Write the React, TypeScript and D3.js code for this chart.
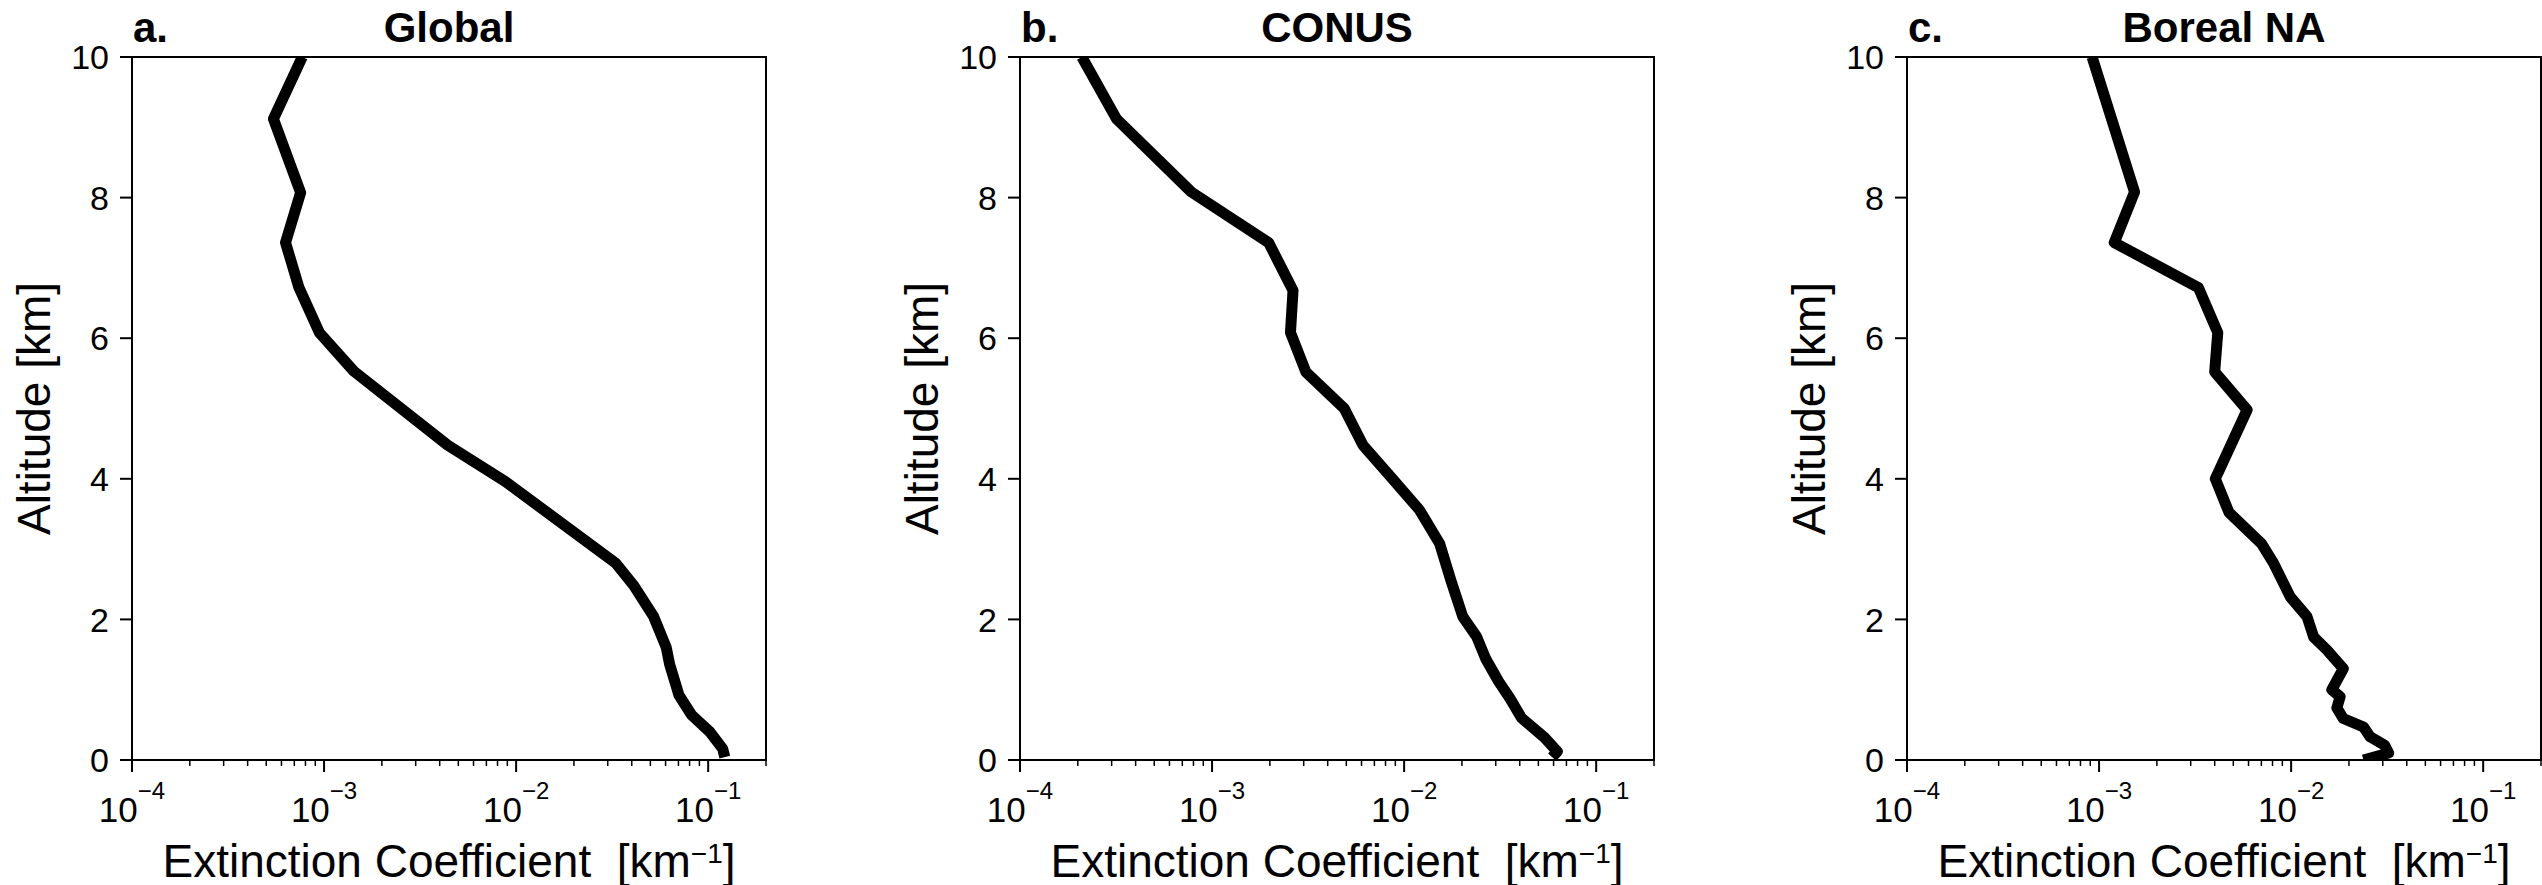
import React from "react";
import * as d3 from "d3";

// ---- Data ----
const globalAlt = [10, 9.12, 8.07, 7.36, 6.72, 6.08, 5.53, 4.48, 3.96, 2.8, 2.48, 2.04, 1.6, 1.36, 0.92, 0.64, 0.4, 0.16, 0.04];
const globalExt = [7.7e-4, 5.45e-4, 7.55e-4, 6.3e-4, 7.4e-4, 9.45e-4, 1.43e-3, 4.4e-3, 8.8e-3, 3.3e-2, 4.1e-2, 5.2e-2, 6.05e-2, 6.3e-2, 7.05e-2, 8.2e-2, 0.102, 0.119, 0.122];

const conusAlt = [10, 9.12, 8.08, 7.36, 6.68, 6.08, 5.52, 5.0, 4.48, 4.0, 3.56, 3.08, 2.56, 2.04, 1.76, 1.44, 1.12, 0.88, 0.6, 0.32, 0.12, 0.04];
const conusExt = [2.1e-4, 3.18e-4, 7.8e-4, 1.97e-3, 2.64e-3, 2.56e-3, 3.08e-3, 4.88e-3, 6.1e-3, 8.7e-3, 1.2e-2, 1.53e-2, 1.75e-2, 2.02e-2, 2.38e-2, 2.66e-2, 3.1e-2, 3.55e-2, 4.08e-2, 5.38e-2, 6.27e-2, 5.9e-2];

const borealAlt = [10, 8.08, 7.36, 6.72, 6.08, 5.52, 4.98, 4.0, 3.52, 3.08, 2.8, 2.32, 2.04, 1.75, 1.57, 1.3, 1.0, 0.9, 0.74, 0.59, 0.47, 0.33, 0.21, 0.1, 0.0];
const borealExt = [9.2e-4, 1.53e-3, 1.2e-3, 3.29e-3, 4.15e-3, 4.0e-3, 5.9e-3, 4.03e-3, 4.75e-3, 7.0e-3, 8.1e-3, 9.9e-3, 1.21e-2, 1.31e-2, 1.53e-2, 1.87e-2, 1.63e-2, 1.8e-2, 1.73e-2, 1.87e-2, 2.38e-2, 2.58e-2, 3.07e-2, 3.22e-2, 2.38e-2];

const panelLetters = ["a.", "b.", "c."];
const panelTitles = ["Global", "CONUS", "Boreal NA"];
const yTicks = [0, 2, 4, 6, 8, 10];
const xMajorExp = [-4, -3, -2, -1];
const xDomain = [1e-4, 0.2];
const yDomain = [0, 10];

const panels = [
  { alt: globalAlt, ext: globalExt },
  { alt: conusAlt, ext: conusExt },
  { alt: borealAlt, ext: borealExt },
];

const W = 2542;
const H = 885;
const lefts = [132, 1020, 1907];
const top = 57;
const pw = 634;
const ph = 703;
const FONT = "'Liberation Sans', Arial, Helvetica, sans-serif";

function Panel({ idx }: { idx: number }) {
  const { alt, ext } = panels[idx];
  const x = d3.scaleLog().domain(xDomain).range([0, pw]);
  const y = d3.scaleLinear().domain(yDomain).range([ph, 0]);
  const pts: [number, number][] = alt.map((a, i) => [ext[i], a]);
  const line = d3
    .line<[number, number]>()
    .x((d) => x(d[0]))
    .y((d) => y(d[1]));
  const minor: number[] = [];
  for (const e of xMajorExp) {
    for (let k = 2; k <= 9; k++) {
      const v = k * Math.pow(10, e);
      if (v <= xDomain[1] * 1.0001) minor.push(v);
    }
  }
  const clipId = `clip${idx}`;
  return (
    <g transform={`translate(${lefts[idx]},${top})`}>
      <defs>
        <clipPath id={clipId}>
          <rect x={0} y={0} width={pw} height={ph} />
        </clipPath>
      </defs>
      <path
        d={line(pts) || ""}
        fill="none"
        stroke="#000"
        strokeWidth={11}
        strokeLinejoin="round"
        strokeLinecap="butt"
        clipPath={`url(#${clipId})`}
      />
      <rect x={0} y={0} width={pw} height={ph} fill="none" stroke="#000" strokeWidth={2} />
      {yTicks.map((t) => (
        <g key={t}>
          <line x1={-12} x2={0} y1={y(t)} y2={y(t)} stroke="#000" strokeWidth={2} />
          <text x={-23} y={y(t)} dy="0.36em" textAnchor="end" fontSize={34} fontFamily={FONT}>
            {t}
          </text>
        </g>
      ))}
      {minor.map((v, i) => (
        <line key={i} x1={x(v)} x2={x(v)} y1={ph} y2={ph + 6} stroke="#000" strokeWidth={1.5} />
      ))}
      {xMajorExp.map((e) => (
        <g key={e}>
          <line x1={x(Math.pow(10, e))} x2={x(Math.pow(10, e))} y1={ph} y2={ph + 12} stroke="#000" strokeWidth={2} />
          <text x={x(Math.pow(10, e))} y={ph + 62} textAnchor="middle" fontSize={35} fontFamily={FONT}>
            10
            <tspan fontSize={24} dy={-23}>{`\u2212${Math.abs(e)}`}</tspan>
          </text>
        </g>
      ))}
      <text
        x={pw / 2}
        y={ph + 117}
        textAnchor="middle"
        fontSize={46}
        fontFamily={FONT}
        style={{ whiteSpace: "pre" }}
      >
        {"Extinction Coefficient  [km"}
        <tspan fontSize={28} dy={-14}>{"\u22121"}</tspan>
        <tspan dy={14}>{"]"}</tspan>
      </text>
      <text
        transform={`translate(${-82},${ph / 2}) rotate(-90)`}
        textAnchor="middle"
        fontSize={46}
        fontFamily={FONT}
      >
        Altitude [km]
      </text>
      <text x={1} y={-15} fontSize={42} fontWeight="bold" fontFamily={FONT}>
        {panelLetters[idx]}
      </text>
      <text x={pw / 2} y={-15} textAnchor="middle" fontSize={42} fontWeight="bold" fontFamily={FONT}>
        {panelTitles[idx]}
      </text>
    </g>
  );
}

export default function App() {
  return (
    <svg
      width={W}
      height={H}
      viewBox={`0 0 ${W} ${H}`}
      style={{ position: "absolute", left: 0, top: 0, background: "#fff" }}
    >
      <rect x={0} y={0} width={W} height={H} fill="#fff" />
      {[0, 1, 2].map((i) => (
        <Panel key={i} idx={i} />
      ))}
    </svg>
  );
}
